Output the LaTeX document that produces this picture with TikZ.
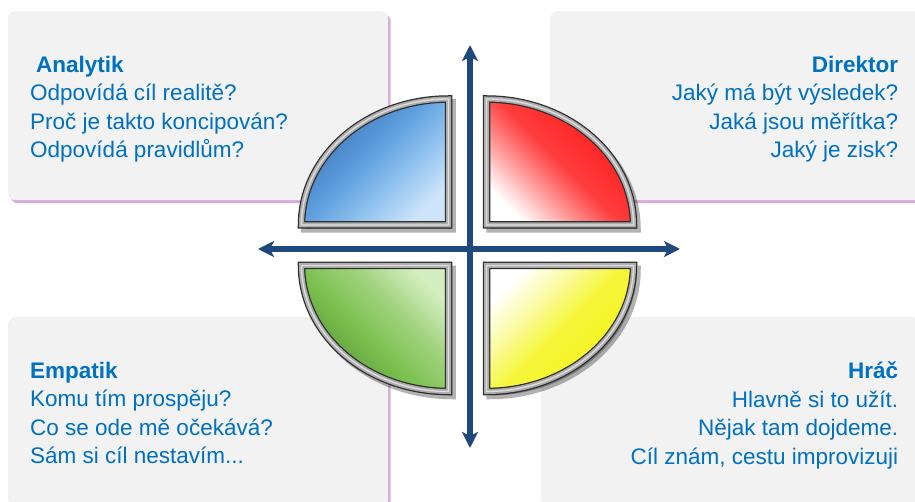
\documentclass[tikz,border=0pt]{standalone}
\usepackage{fontspec}
\setmainfont{Liberation Sans}
\usepackage{tikz}
\usetikzlibrary{arrows.meta, positioning, shadows}

\definecolor{txtblue}{RGB}{0,112,192}
\definecolor{cardgray}{RGB}{242,242,242}
\definecolor{cardshadow}{RGB}{214,172,218}
\definecolor{axisblue}{RGB}{31,73,125}
\definecolor{bluedark}{RGB}{52,112,182}
\definecolor{bluemid}{RGB}{98,162,224}
\definecolor{bluepale}{RGB}{150,198,240}
\definecolor{bluelight}{RGB}{205,228,250}
\definecolor{redfull}{RGB}{255,22,22}
\definecolor{redmid}{RGB}{255,60,60}
\definecolor{redpale}{RGB}{255,150,150}
\definecolor{greendark}{RGB}{88,142,55}
\definecolor{greenmid}{RGB}{122,192,78}
\definecolor{greenpale}{RGB}{160,210,125}
\definecolor{greenlight}{RGB}{210,238,190}
\definecolor{yellowfull}{RGB}{245,245,22}
\definecolor{yellowmid}{RGB}{246,246,60}
\definecolor{yellowpale}{RGB}{250,250,160}

% colour runs of the quadrants (bottom to top)
\pgfdeclareverticalshading{bluequad}{100bp}{color(0bp)=(bluelight); color(25bp)=(bluelight); color(38bp)=(bluepale); color(52bp)=(bluemid); color(75bp)=(bluedark); color(100bp)=(bluedark)}
\pgfdeclareverticalshading{redquad}{100bp}{color(0bp)=(white); color(25bp)=(white); color(38bp)=(redpale); color(50bp)=(redmid); color(75bp)=(redfull); color(100bp)=(redfull)}
\pgfdeclareverticalshading{greenquad}{100bp}{color(0bp)=(greendark); color(25bp)=(greendark); color(45bp)=(greenmid); color(60bp)=(greenpale); color(75bp)=(greenlight); color(100bp)=(greenlight)}
\pgfdeclareverticalshading{yellowquad}{100bp}{color(0bp)=(yellowfull); color(25bp)=(yellowfull); color(50bp)=(yellowmid); color(62bp)=(yellowpale); color(75bp)=(white); color(100bp)=(white)}

\begin{document}
\begin{tikzpicture}[x=1pt, y=-1pt,
  card/.style={rectangle, rounded corners=7pt, fill=cardgray, minimum width=380pt, minimum height=189pt, inner sep=0pt, anchor=north west,
    drop shadow={shadow xshift=2.5pt, shadow yshift=-3pt, fill=cardshadow, opacity=1}},
  txt/.style={inner sep=0pt, text=txtblue, font=\fontsize{22.5}{28.5}\selectfont},
  quadshadow/.style={fill=black, draw=black, line width=7.5pt, line join=miter, opacity=.3, xshift=3.5pt, yshift=-4pt},
  quad/.style={line join=miter,
    postaction={draw=gray!35!black, line width=7.5pt},
    postaction={draw=gray!65, line width=5pt},
    postaction={draw=gray!25, line width=1.3pt}},
  qblue/.style={shading=bluequad, shading angle=45},
  qred/.style={shading=redquad, shading angle=-45},
  qgreen/.style={shading=greenquad, shading angle=-45},
  qyellow/.style={shading=yellowquad, shading angle=45},
  axis/.style={draw=axisblue, line width=6pt, {Stealth[length=16pt, width=16pt, inset=4pt]}-{Stealth[length=16pt, width=16pt, inset=4pt]}}
]
  \useasboundingbox[fill=white] (0,0) rectangle (915,502);

  % the four cards
  \node[card] (anbox) at (8,11) {};
  \node[card] (dibox) at (550,11) {};
  \node[card] (embox) at (8,317) {};
  \node[card] (hrbox) at (541,317) {};

  \node[txt, align=left, below right=44.6pt and 22pt of anbox.north west] (antext)
    {{\bfseries\hspace*{6pt}Analytik}\\Odpovídá cíl realitě?\\Proč je takto koncipován?\\Odpovídá pravidlům?};
  \node[txt, align=right, below left=44.6pt and 32pt of dibox.north east] (ditext)
    {{\bfseries Direktor}\\Jaký má být výsledek?\\Jaká jsou měřítka?\\Jaký je zisk?};
  \node[txt, align=left, below right=44.6pt and 22pt of embox.north west] (emtext)
    {{\bfseries Empatik}\\Komu tím prospěju?\\Co se ode mě očekává?\\Sám si cíl nestavím...};
  \node[txt, align=right, below left=44.6pt and 23pt of hrbox.north east] (hrtext)
    {{\bfseries Hráč}\\Hlavně si to užít.\\Nějak tam dojdeme.\\Cíl znám, cestu improvizuji};

  % quadrants: corner, start angle, colours
  \foreach \cx/\cy/\ang/\qcol in {448.5/225/180/qblue, 486.5/225/270/qred, 448.5/265.5/90/qgreen, 486.5/265.5/0/qyellow} {
    \path[quadshadow] (\cx,\cy) -- ++({147*cos(\ang)},{126*sin(\ang)})
      arc[start angle=\ang, delta angle=90, x radius=147, y radius=126] -- cycle;
    \path[quad, \qcol] (\cx,\cy) -- ++({147*cos(\ang)},{126*sin(\ang)})
      arc[start angle=\ang, delta angle=90, x radius=147, y radius=126] -- cycle;
  }

  % axes
  \coordinate (ytop) at (470,45);
  \coordinate (ybot) at (470,448);
  \coordinate (xleft) at (258,249);
  \coordinate (xright) at (680,249);
  \draw[axis] (ybot) -- (ytop);
  \draw[axis] (xleft) -- (xright);
\end{tikzpicture}
\end{document}
